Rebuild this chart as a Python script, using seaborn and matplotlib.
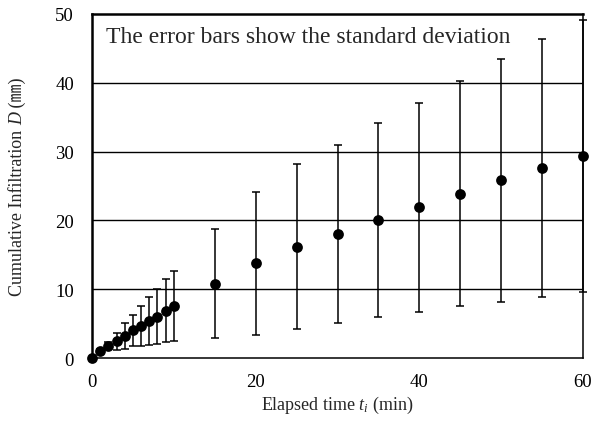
import numpy as np
import pandas as pd
import matplotlib
matplotlib.use("Agg")
import matplotlib.pyplot as plt
import seaborn as sns

time_min = [0, 1, 2, 3, 4, 5, 6, 7, 8, 9, 10, 15, 20, 25, 30, 35, 40, 45, 50, 55, 60]
mean_D = [0, 1.0, 1.8, 2.4, 3.2, 4.0, 4.6, 5.4, 6.0, 6.9, 7.5,
          10.8, 13.8, 16.2, 18.0, 20.1, 21.9, 23.9, 25.8, 27.6, 29.4]
std_D = [0, 0.3, 0.5, 1.3, 1.9, 2.3, 2.9, 3.5, 4.0, 4.6, 5.1,
         7.9, 10.4, 12.0, 12.9, 14.1, 15.2, 16.4, 17.6, 18.7, 19.8]
x_ticks = [0, 20, 40, 60]
y_ticks = [0, 10, 20, 30, 40, 50]
note = "The error bars show the standard deviation"
ylabel_parts = ["Cumulative Infiltration ", "D", " (㎜)"]
xlabel = "Elapsed time $t_i$ (min)"

df = pd.DataFrame({"t": time_min, "D": mean_D, "sd": std_D})

sns.set_style("white")
plt.rcParams["font.family"] = ["Liberation Serif", "Noto Sans CJK JP"]
plt.rcParams["mathtext.fontset"] = "custom"
plt.rcParams["mathtext.it"] = "Liberation Serif:italic"
plt.rcParams["mathtext.rm"] = "Liberation Serif"

W, H = 593, 427
fig = plt.figure(figsize=(W / 100, H / 100), dpi=100)
ax = fig.add_axes([92 / W, 1 - 359 / H, (583 - 92) / W, (359 - 15) / H])

for yv in y_ticks[1:-1]:
    ax.axhline(yv, color="black", lw=1.0, zorder=1)

ax.errorbar(df["t"], df["D"], yerr=df["sd"], fmt="none", ecolor="black",
            elinewidth=1.1, capsize=3, capthick=1.1, zorder=2, clip_on=False)
sns.scatterplot(data=df, x="t", y="D", ax=ax, color="black", s=60,
                edgecolor="black", linewidth=0, zorder=3, clip_on=False, legend=False)

ax.set_xlim(0, 60)
ax.set_ylim(0, 50)
ax.set_xticks(x_ticks)
ax.set_yticks(y_ticks)
ax.tick_params(axis="both", direction="in", length=5, width=1, colors="black",
               labelsize=13.5)
ax.tick_params(axis="y", pad=13)
ax.tick_params(axis="x", pad=11)
ax.set_xlabel("")
ax.set_ylabel("")

for side in ["left", "top"]:
    ax.spines[side].set_linewidth(1.8)
for side in ["right", "bottom"]:
    ax.spines[side].set_linewidth(1.1)
for s in ax.spines.values():
    s.set_color("black")

# x label
fig.text(337 / W, 1 - 405 / H, xlabel, fontsize=13, ha="center", va="center")

# y label built from pieces (italic D, CJK unit sign)
renderer = fig.canvas.get_renderer()
styles = ["normal", "italic", "normal"]
lab_x = 22 / W
pieces = []
for txt, st in zip(ylabel_parts, styles):
    t = fig.text(lab_x, 0, txt, rotation=90, rotation_mode="anchor",
                 ha="left", va="baseline", fontsize=13, fontstyle=st)
    pieces.append(t)
lengths = [p.get_window_extent(renderer).height for p in pieces]
total = sum(lengths)
center_px = H - 187
y_px = center_px - total / 2
for p, L in zip(pieces, lengths):
    p.set_y(y_px / H)
    y_px += L

ax.text(0.028, 0.965, note, transform=ax.transAxes, fontsize=17,
        va="top", ha="left")

fig.savefig("out.png", dpi=100)
